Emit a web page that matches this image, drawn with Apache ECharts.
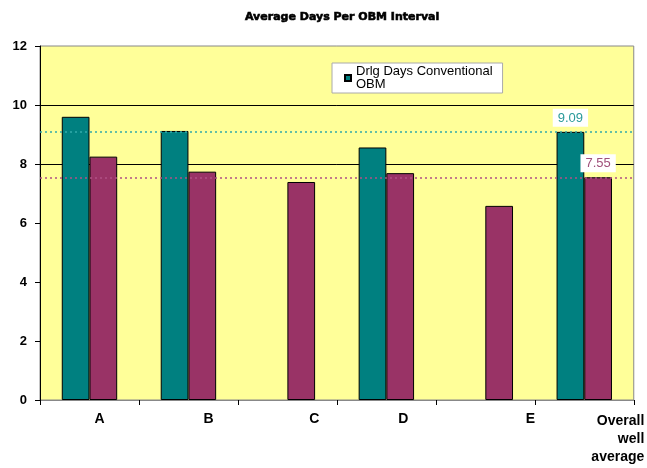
<!DOCTYPE html>
<html>
<head>
<meta charset="utf-8">
<script src="https://cdn.jsdelivr.net/npm/echarts@6/dist/echarts.min.js"></script>
<style>
  html, body { margin:0; padding:0; background:#fff; }
  #chart { width:647px; height:468px; }
</style>
</head>
<body>
<div id="chart"></div>
<script>
// data
let categories = ['A', 'B', 'C', 'D', 'E', 'Overall\nwell\naverage'];
let conventional = [9.6, 9.12, null, 8.56, null, 9.09];
let obmInterval = [8.25, 7.74, 7.39, 7.69, 6.58, 7.55];
let yTicks = [0, 2, 4, 6, 8, 10, 12];

// label nudges (style only), px to the right of the category centre
let labelShift = [10, 20, 27, 17, 45, 0];

let teal = '#008080';
let maroon = '#993366';
let convAvg = conventional[conventional.length - 1];
let obmAvg = obmInterval[obmInterval.length - 1];

let myChart = echarts.init(document.getElementById('chart'));

let rich = {};
labelShift.forEach((s, i) => {
    rich['c' + i] = { fontWeight:'bold', fontSize:14, color:'#000', padding:[0, 0, 0, s * 2] };
});
rich.last = { fontWeight:'bold', fontSize:14, color:'#000', width:120, align:'right', lineHeight:18 };

function lastLabel(color){
    return {
        show:true,
        position:'top',
        distance:5,
        color,
        fontSize:13,
        fontFamily:'Liberation Sans',
        backgroundColor:'#fff',
        padding:[3, 5, 2, 5]
    };
}

let option = {
    animation:false,
    backgroundColor:'#fff',
    textStyle:{ fontFamily:'Liberation Sans' },
    title:{
        text:'Average Days Per OBM Interval',
        left:240,
        top:7,
        textStyle:{ fontSize:11, fontWeight:900, color:'#000', fontFamily:'DejaVu Sans', textBorderColor:'#000', textBorderWidth:0.6 }
    },
    legend:{
        left:332,
        top:63,
        width:176,
        data:[{ name:'Drlg Days Conventional\nOBM' }],
        backgroundColor:'#fff',
        borderColor:'#aaa',
        borderWidth:1,
        padding:[2, 10, 2, 12],
        icon:'rect',
        itemWidth:6,
        itemHeight:6,
        itemGap:4,
        selectedMode:false,
        textStyle:{ fontSize:13, color:'#000', lineHeight:13 }
    },
    grid:{
        left:40,
        right:10,
        top:46,
        bottom:68,
        show:true,
        backgroundColor:'#ffff99',
        borderColor:'#888',
        borderWidth:1
    },
    xAxis:{
        type:'category',
        data:categories,
        axisLine:{ lineStyle:{ color:'#888' } },
        axisTick:{ show:true, length:5, lineStyle:{ color:'#000' } },
        axisLabel:{
            margin:12,
            interval:0,
            formatter:(val, idx)=>{
                if ( idx === categories.length - 1 ){
                    return val.split('\n').map(t=>'{last|' + t + '}').join('\n');
                }
                return '{c' + idx + '|' + val + '}';
            },
            rich
        }
    },
    yAxis:{
        type:'value',
        min:yTicks[0],
        max:yTicks[yTicks.length - 1],
        interval:2,
        axisLine:{ show:true, lineStyle:{ color:'#000' } },
        axisTick:{ show:true, length:5, lineStyle:{ color:'#000' } },
        axisLabel:{ color:'#000', fontWeight:'bold', fontSize:13, margin:13 },
        splitLine:{
            show:true,
            lineStyle:{ color:['transparent', 'transparent', 'transparent', 'transparent', '#000', '#000', 'transparent'], width:1 }
        }
    },
    series:[
        {
            type:'bar',
            name:'Drlg Days Conventional\nOBM',
            data:conventional.map((v, i)=> i === conventional.length - 1 ? { value:v, label:lastLabel('#2a9a9a') } : v),
            barGap:'0%',
            barCategoryGap:'44%',
            itemStyle:{ color:teal, borderColor:'#000', borderWidth:1 },
            markLine:{
                silent:true,
                symbol:'none',
                label:{ show:false },
                lineStyle:{ color:'#33aaaa', type:[2, 3], width:1.5 },
                data:[{ yAxis:convAvg }]
            }
        },
        {
            type:'bar',
            name:'Drlg Days OBM Interval',
            data:obmInterval.map((v, i)=> i === obmInterval.length - 1 ? { value:v, label:lastLabel('#a0507a') } : v),
            itemStyle:{ color:maroon, borderColor:'#000', borderWidth:1 },
            markLine:{
                silent:true,
                symbol:'none',
                label:{ show:false },
                lineStyle:{ color:'#b05085', type:[2, 3], width:1.5 },
                data:[{ yAxis:obmAvg }]
            }
        }
    ]
};
myChart.setOption(option);
</script>
</body>
</html>
